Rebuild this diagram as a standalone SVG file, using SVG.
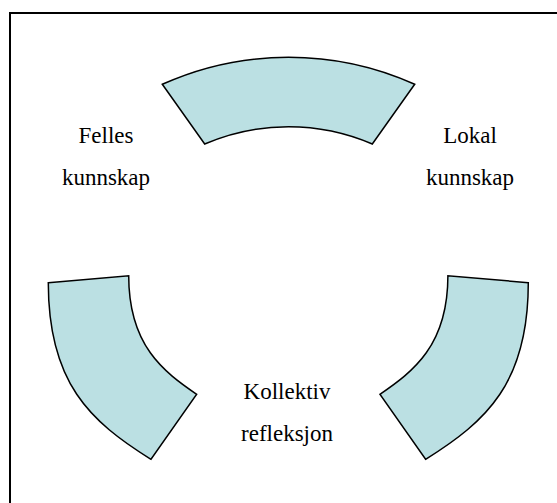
<svg xmlns="http://www.w3.org/2000/svg" width="557" height="503" viewBox="0 0 557 503">
  <style>
    .seg { fill: #BBE0E3; stroke: #000; stroke-width: 1.5; stroke-linejoin: miter; }
    .lbl { font-family: "Liberation Serif", "Times New Roman", serif; font-size: 23px; fill: #000; text-anchor: middle; }
    .frame { fill: #fff; stroke: #000; stroke-width: 2; }
  </style>
  <rect x="0" y="0" width="557" height="503" fill="#fff"/>
  <rect class="frame" x="10" y="13" width="600" height="600"/>
  <g id="segment-top">
    <path class="seg" d="M162.3,84.3 A308,308 0 0 1 414.7,84.3 L372.3,144 A212,212 0 0 0 204.7,144 Z"/>
  </g>
  <g id="segment-left">
    <path class="seg" d="M48.3,282.7 L128.7,275.7 C128.7,345.7 163.7,371.7 196.7,394.3 L151,459.3 C89.9,421.3 48.3,382.7 48.3,282.7 Z"/>
  </g>
  <g id="segment-right">
    <path class="seg" d="M528.3,282.7 L447.9,275.7 C447.9,345.7 412.9,371.7 379.9,394.3 L425.6,459.3 C486.7,421.3 528.3,382.7 528.3,282.7 Z"/>
  </g>
  <g id="label-felles">
    <text class="lbl" x="106" y="143.3">Felles</text>
    <text class="lbl" x="106" y="185">kunnskap</text>
  </g>
  <g id="label-lokal">
    <text class="lbl" x="470" y="143.3">Lokal</text>
    <text class="lbl" x="470" y="185">kunnskap</text>
  </g>
  <g id="label-kollektiv">
    <text class="lbl" x="287" y="398.5">Kollektiv</text>
    <text class="lbl" x="287" y="440.5">refleksjon</text>
  </g>
  <g id="connectors"></g>
</svg>
